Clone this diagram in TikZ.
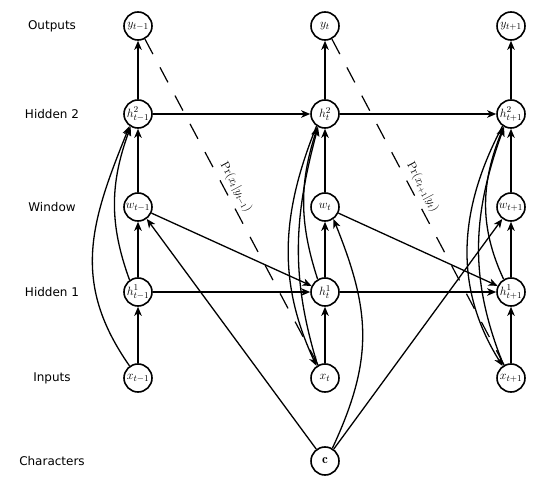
\documentclass[tikz,border=0pt]{standalone}
\usepackage{fontspec}
\newfontfamily\labelfont{DejaVu Sans}
\usetikzlibrary{arrows.meta}
\begin{document}
\begin{tikzpicture}[x=1pt,y=1pt,
  layer/.style={circle,draw,line width=1.6pt,minimum size=28pt,inner sep=0pt,font=\fontsize{13}{15}\selectfont},
  rowlabel/.style={font=\labelfont\fontsize{12}{14}\selectfont},
  conn/.style={line width=1.3pt,-{Stealth[length=9pt,width=7.5pt,inset=2.5pt]}},
  pred/.style={line width=1.2pt,dash pattern=on 17pt off 15pt},
  predlabel/.style={sloped,above=1pt,font=\fontsize{12}{14}\selectfont}]
\useasboundingbox (0,0) rectangle (538,488);
% row labels
\node[rowlabel] (lo) at (52,462) {Outputs};
\node[rowlabel] (lh2) at (52,374) {Hidden 2};
\node[rowlabel] (lw) at (52,281) {Window};
\node[rowlabel] (lh1) at (52,196) {Hidden 1};
\node[rowlabel] (li) at (52,110) {Inputs};
\node[rowlabel] (lc) at (52,27) {Characters};
% layers
\node[layer] (y1) at (138,462) {$y_{t-1}$};
\node[layer] (y2) at (325,462) {$y_{t}$};
\node[layer] (y3) at (511,462) {$y_{t+1}$};
\node[layer] (h21) at (138,374) {$h^2_{t-1}$};
\node[layer] (h22) at (325,374) {$h^2_{t}$};
\node[layer] (h23) at (511,374) {$h^2_{t+1}$};
\node[layer] (w1) at (138,281) {$w_{t-1}$};
\node[layer] (w2) at (325,281) {$w_{t}$};
\node[layer] (w3) at (511,281) {$w_{t+1}$};
\node[layer] (h11) at (138,196) {$h^1_{t-1}$};
\node[layer] (h12) at (325,196) {$h^1_{t}$};
\node[layer] (h13) at (511,196) {$h^1_{t+1}$};
\node[layer] (x1) at (138,110) {$x_{t-1}$};
\node[layer] (x2) at (325,110) {$x_{t}$};
\node[layer] (x3) at (511,110) {$x_{t+1}$};
\node[layer] (c) at (325,27) {$\mathbf{c}$};
% vertical connections
\foreach \i in {1,2,3}{
  \draw[conn] (x\i) -- (h1\i);
  \draw[conn] (h1\i) -- (w\i);
  \draw[conn] (w\i) -- (h2\i);
  \draw[conn] (h2\i) -- (y\i);
}
% recurrent connections
\draw[conn] (h11) -- (h12);
\draw[conn] (h12) -- (h13);
\draw[conn] (h21) -- (h22);
\draw[conn] (h22) -- (h23);
% window to next first hidden layer
\draw[conn] (w1) -- (h12);
\draw[conn] (w2) -- (h13);
% characters to window
\draw[conn] (c) -- (w1);
\draw[conn] (c) -- (w3);
\draw[conn] (c.60) to[out=65,in=-68,looseness=1.1] (w2.-55);
% skip connections, left column
\draw[conn] (x1.125) to[out=125,in=-112,looseness=1.1] (h21.-125);
\draw[conn] (h11.125) to[out=110,in=-110] (h21.-120);
% middle column
\draw[conn] (h12.120) to[out=108,in=-108] (h22.-120);
\draw[conn] (x2.120) to[out=107,in=-105] (h22.-118);
\draw[conn] (h22.-125) to[out=-112,in=115] (x2.125);
% right column
\draw[conn] (h13.120) to[out=115,in=-112] (h23.-120);
\draw[conn] (x3.120) to[out=112,in=-110] (h23.-118);
\draw[conn] (h23.-125) to[out=-118,in=122] (x3.125);
% predictions
\draw[pred] (y1) -- node[predlabel,pos=0.47] {$\Pr(x_t|y_{t-1})$} (x2);
\draw[pred] (y2) -- node[predlabel,pos=0.47] {$\Pr(x_{t+1}|y_t)$} (x3);
\end{tikzpicture}
\end{document}
